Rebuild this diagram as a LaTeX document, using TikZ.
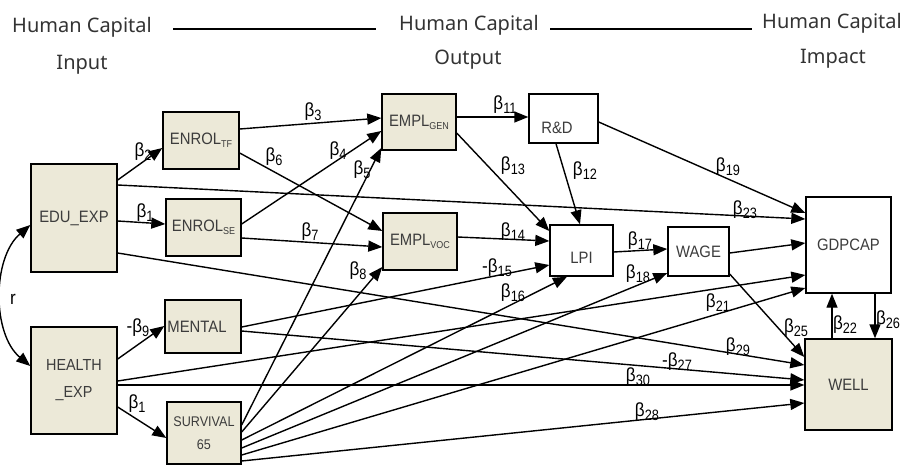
\documentclass[tikz,border=0pt]{standalone}
\usepackage{fontspec}
\setmainfont{Liberation Sans}
\newfontfamily\boxfont[FakeStretch=0.9]{Liberation Sans}
\newfontfamily\headfont{Noto Sans}
\newfontfamily\betafont[FakeStretch=0.9]{Liberation Sans}
\newfontfamily\subfont[FakeStretch=0.85]{Liberation Sans}
\usetikzlibrary{arrows.meta}
\definecolor{beige}{HTML}{ECE9D8}
\definecolor{boxtext}{HTML}{3C3C3C}
\newcommand\bt[1]{{\betafont\fontsize{19}{19}\selectfont β\raisebox{-3.5pt}{\subfont\fontsize{15}{15}\selectfont #1}}}
\newcommand\nbt[1]{{\betafont\fontsize{19}{19}\selectfont -}\bt{#1}}
\newcommand\sbx[1]{\raisebox{-3pt}{\fontsize{10}{10}\selectfont #1}}
\tikzset{
  bx/.style={draw, line width=1.4pt, inner sep=0pt, font=\boxfont\fontsize{16.5}{16.5}\selectfont, text=boxtext},
  tan/.style={bx, fill=beige},
  wh/.style={bx, fill=white},
  tipA/.tip={Triangle[length=14pt,width=11pt]},
  ar/.style={line width=1.4pt, -tipA},
  lbl/.style={inner sep=0pt, text=black},
  hd/.style={font=\headfont\fontsize{20}{20}\selectfont, text=black!80, inner sep=0pt, text height=14.3pt, text depth=0pt},
  hline/.style={line width=2pt}
}
\begin{document}
\begin{tikzpicture}[x=1pt,y=-1pt]
\useasboundingbox (0,0) rectangle (905,466);

% headers
\node[hd] (h1a) at (82,25) {Human Capital};
\node[hd] (h1b) at (82,62) {Input};
\node[hd] (h2a) at (469,23) {Human Capital};
\node[hd] (h2b) at (468,57) {Output};
\node[hd] (h3a) at (832,21) {Human Capital};
\node[hd] (h3b) at (833,56) {Impact};
\coordinate (l1s) at (173,29);
\coordinate (l1e) at (376,29);
\coordinate (l2s) at (550,29);
\coordinate (l2e) at (752,29);
\draw[hline] (l1s) -- (l1e);
\draw[hline] (l2s) -- (l2e);

% boxes
\node[tan, minimum width=86, minimum height=108] (edu) at (74,218) {EDU\_EXP};
\node[tan, minimum width=86, minimum height=107, align=center, font=\boxfont\fontsize{16}{27}\selectfont] (health) at (74,380.5) {HEALTH\\\_EXP};
\node[tan, minimum width=76, minimum height=57] (enrtf) at (201,140.5) {ENROL\sbx{TF}};
\node[tan, minimum width=75, minimum height=57] (enrse) at (203.5,227.5) {ENROL\sbx{SE}};
\node[tan, minimum width=76, minimum height=53] (mental) at (203,326.5) {\hspace*{-12pt}MENTAL};
\node[tan, minimum width=74, minimum height=62, align=center, font=\boxfont\fontsize{14}{23}\selectfont] (surv) at (204,433) {SURVIVAL\\65};
\node[tan, minimum width=74, minimum height=56] (emplgen) at (419,122) {EMPL\sbx{GEN}};
\node[tan, minimum width=74, minimum height=57] (emplvoc) at (420,241.5) {EMPL\sbx{VOC}};
\node[wh, minimum width=69, minimum height=49] (rd) at (563.5,118.5) {\hspace*{-13pt}\raisebox{-9.5pt}[\height][\depth]{R\&D}};
\node[wh, minimum width=63, minimum height=51] (lpi) at (581.5,250.5) {\raisebox{-7pt}[\height][\depth]{LPI}};
\node[wh, minimum width=61, minimum height=49] (wage) at (698.5,251.5) {WAGE};
\node[wh, minimum width=85, minimum height=96] (gdp) at (848.5,245) {GDPCAP};
\node[tan, minimum width=87, minimum height=91] (well) at (848.5,384.5) {WELL};

% connectors
\draw[ar] (edu.east|-0,180) -- (enrtf.west|-0,148);
\draw[ar] (edu.east|-0,221) -- (enrse.west|-0,224);
\draw[ar] (edu.east|-0,185) -- (gdp.west|-0,219);
\draw[ar] (edu.east|-0,253) -- (well.west|-0,365);
\draw[ar] (enrtf.east|-0,129) -- (emplgen.west|-0,118);
\draw[ar] (enrtf.east|-0,153) -- (emplvoc.west|-0,231);
\draw[ar] (enrse.east|-0,224) -- (emplgen.west|-0,131);
\draw[ar] (enrse.east|-0,238) -- (emplvoc.west|-0,247);
\draw[ar] (surv.east|-0,425) -- (emplgen.west|-0,148);
\draw[ar] (surv.east|-0,432) -- (emplvoc.west|-0,267);
\draw[ar] (emplgen.east|-0,117) -- (rd.west|-0,117);
\draw[ar] (emplgen.east|-0,133) -- (lpi.west|-0,231);
\draw[ar] (rd.south-|556,0) -- (lpi.north-|580,0);
\draw[ar] (emplvoc.east|-0,237) -- (lpi.west|-0,241);
\draw[ar] (mental.east|-0,327) -- (lpi.west|-0,265);
\draw[ar] (surv.east|-0,440) -- (lpi.south-|567,0);
\draw[ar] (surv.east|-0,448) -- (wage.west|-0,273);
\draw[ar] (lpi.east|-0,252) -- (wage.west|-0,249);
\draw[ar] (rd.east|-0,122) -- (gdp.west|-0,213);
\draw[ar] (wage.east|-0,253) -- (gdp.west|-0,243);
\draw[ar] (health.east|-0,381) -- (gdp.west|-0,275);
\draw[ar] (surv.east|-0,455) -- (gdp.west|-0,288);
\draw[ar] (wage.east|-0,274) -- (well.west|-0,357);
\draw[ar] (well.north-|832,0) -- (gdp.south-|832,0);
\draw[ar] (gdp.south-|875,0) -- (well.north-|875,0);
\draw[ar] (mental.east|-0,331) -- (well.west|-0,380);
\draw[ar] (surv.east|-0,461) -- (well.west|-0,403);
\draw[ar] (health.east|-0,385) -- (well.west|-0,385);
\draw[ar] (health.east|-0,359) -- (mental.west|-0,326);
\draw[ar] (health.east|-0,407) -- (surv.west|-0,438);
\draw[line width=1.4pt, tipA-tipA] (edu.west|-0,225) .. controls (-8,258) and (-8,334) .. (health.west|-0,366);

% labels
\node[lbl] (rl) at (13,299) {\betafont\fontsize{19}{19}\selectfont r};
\node[lbl] (b2) at (143,152) {\bt{2}};
\node[lbl] (b1a) at (145,213) {\bt{1}};
\node[lbl] (b3) at (313,112) {\bt{3}};
\node[lbl] (b6) at (274,157) {\bt{6}};
\node[lbl] (b4) at (338,151) {\bt{4}};
\node[lbl] (b5) at (362,170) {\bt{5}};
\node[lbl] (b7) at (310,232) {\bt{7}};
\node[lbl] (b8) at (358,271) {\bt{8}};
\node[lbl] (b11) at (505,105) {\bt{11}};
\node[lbl] (b13) at (513,166) {\bt{13}};
\node[lbl] (b12) at (585,171) {\bt{12}};
\node[lbl] (b14) at (513,232) {\bt{14}};
\node[lbl] (b15) at (497,268) {\nbt{15}};
\node[lbl] (b16) at (513,293) {\bt{16}};
\node[lbl] (b19) at (728,167) {\bt{19}};
\node[lbl] (b23) at (745,210) {\bt{23}};
\node[lbl] (b17) at (640,241) {\bt{17}};
\node[lbl] (b18) at (638,274) {\bt{18}};
\node[lbl] (b21) at (718,303) {\bt{21}};
\node[lbl] (b25) at (796,328) {\bt{25}};
\node[lbl] (b22) at (845,325) {\bt{22}};
\node[lbl] (b26) at (888,320) {\bt{26}};
\node[lbl] (b29) at (738,347) {\bt{29}};
\node[lbl] (b27) at (677,362) {\nbt{27}};
\node[lbl] (b30) at (638,377) {\bt{30}};
\node[lbl] (b28) at (647,412) {\bt{28}};
\node[lbl] (b9) at (138,328) {\nbt{9}};
\node[lbl] (b1b) at (137,404) {\bt{1}};
\end{tikzpicture}
\end{document}
